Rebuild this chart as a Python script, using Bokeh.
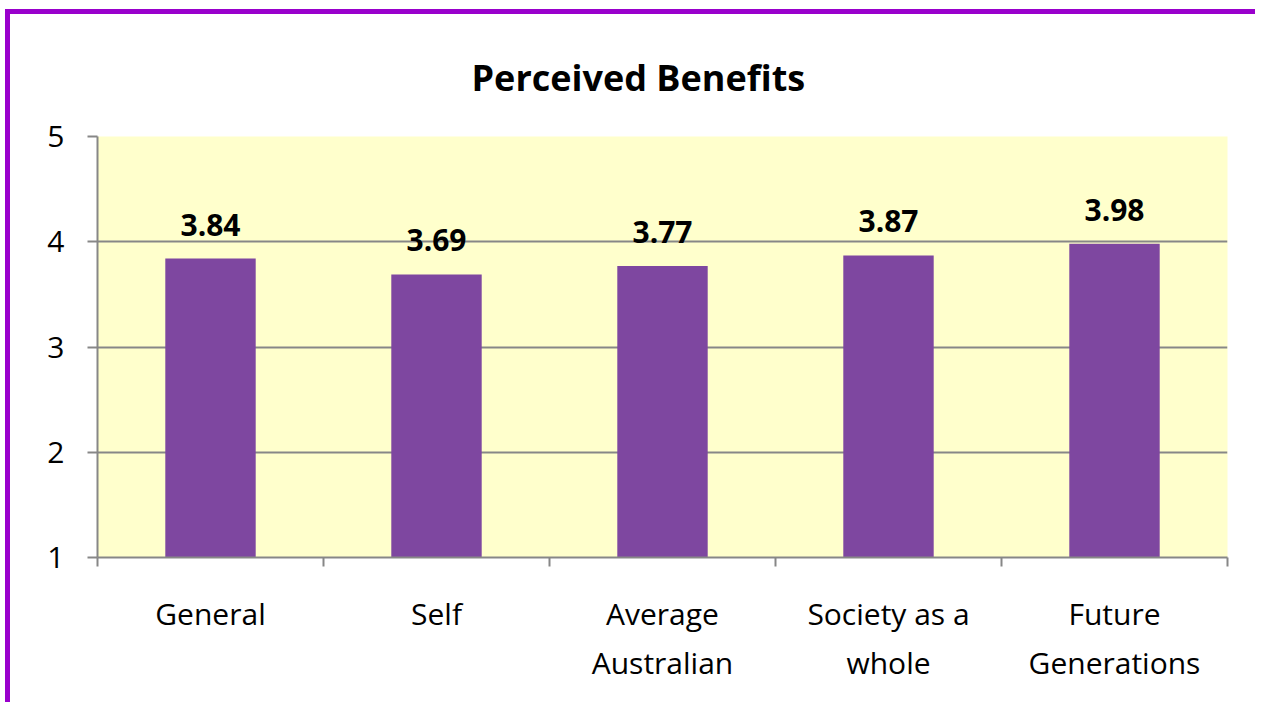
from bokeh.plotting import figure
from bokeh.models import Range1d, LinearAxis, FixedTicker
from bokeh.core.properties import value
from bokeh.embed import file_html
from bokeh.resources import INLINE

categories = ["General", "Self", "Average\nAustralian", "Society as a\nwhole", "Future\nGenerations"]
scores = [3.84, 3.69, 3.77, 3.87, 3.98]
y_ticks = [1, 2, 3, 4, 5]
title_text = "Perceived Benefits"

FONT = "Open Sans"
GRID = "#878787"

n = len(categories)
centers = [i + 0.5 for i in range(n)]
bounds = list(range(n + 1))

p = figure(
    width=1250, height=693,
    x_range=Range1d(0, n),
    y_range=Range1d(1, 5),
    output_backend="svg", toolbar_location=None,
    x_axis_location=None, y_axis_location=None,
    min_border_left=87, min_border_right=33, min_border_top=122, min_border_bottom=150,
)
p.styles = {"border-top": "5px solid #9900CC", "border-left": "5px solid #9900CC",
            "margin-left": "5px", "margin-top": "9px"}
p.background_fill_color = "#FFFFCC"
p.border_fill_color = "white"
p.outline_line_color = None

p.title.text = title_text
p.title.text_font = FONT
p.title.text_font_size = "36px"
p.title.text_font_style = "bold"
p.title.text_color = "black"
p.title.align = "left"
p.title.vertical_align = "top"
p.title.standoff = 66
p.title.offset = 374

p.xgrid.grid_line_color = None
p.ygrid.grid_line_color = GRID
p.ygrid.grid_line_width = 2
p.ygrid.ticker = FixedTicker(ticks=y_ticks)

p.vbar(x=centers, top=scores, bottom=1, width=0.4, fill_color="#7E47A0", line_color=None)
p.text(x=centers, y=scores, text=[f"{v:.2f}" for v in scores],
       text_font=value(FONT), text_font_size="30px", text_font_style="bold",
       text_align="center", text_baseline="alphabetic", y_offset=-34, text_color="black")

yaxis = LinearAxis(ticker=FixedTicker(ticks=y_ticks))
yaxis.axis_line_color = GRID
yaxis.axis_line_width = 2
yaxis.major_tick_line_color = GRID
yaxis.major_tick_line_width = 2
yaxis.major_tick_out = 10
yaxis.major_tick_in = 0
yaxis.minor_tick_line_color = None
yaxis.major_label_standoff = 23
yaxis.major_label_text_font = FONT
yaxis.major_label_text_font_size = "30px"
yaxis.major_label_text_color = "black"
p.add_layout(yaxis, "left")

xaxis = LinearAxis(ticker=FixedTicker(ticks=centers, minor_ticks=bounds))
xaxis.axis_line_color = GRID
xaxis.axis_line_width = 2
xaxis.major_tick_line_color = None
xaxis.major_tick_out = 0
xaxis.major_tick_in = 0
xaxis.minor_tick_line_color = GRID
xaxis.minor_tick_line_width = 2
xaxis.minor_tick_out = 9
xaxis.minor_tick_in = 0
xaxis.major_label_standoff = 26
xaxis.major_label_text_font = FONT
xaxis.major_label_text_font_size = "30px"
xaxis.major_label_text_color = "black"
xaxis.major_label_overrides = dict(zip(centers, categories))
p.add_layout(xaxis, "below")

open("out.html", "w").write(file_html(p, INLINE))
